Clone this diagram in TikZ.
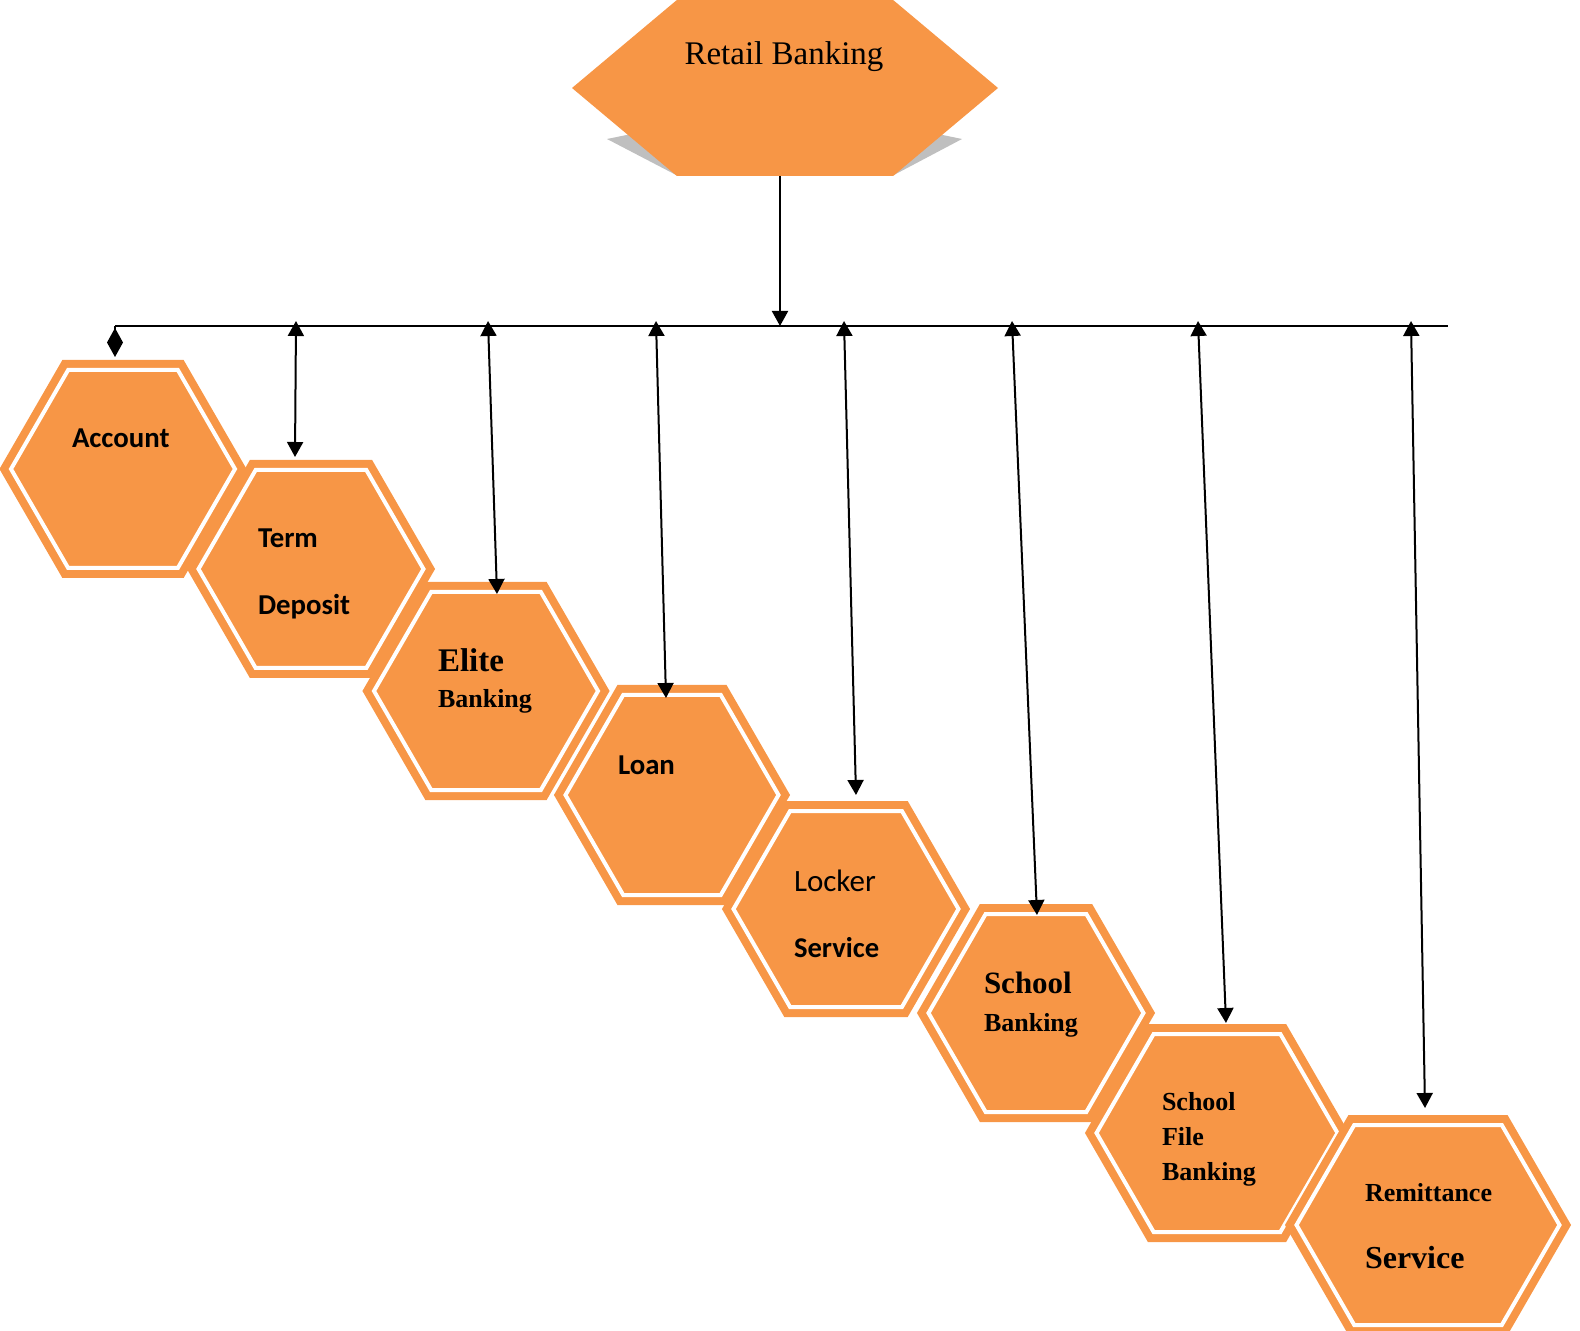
\documentclass[tikz,border=0pt]{standalone}
\usepackage{fontspec}
\setmainfont{Liberation Serif}
\newfontfamily\calibri{Carlito}
\usetikzlibrary{shapes.symbols,arrows.meta,calc}
\definecolor{hexorange}{RGB}{247,150,70}
\definecolor{shadowgray}{RGB}{191,191,191}
\tikzstyle{hexa} = [signal, signal to=east and west, signal pointer angle=120, minimum width=112pt, minimum height=99pt, inner sep=0pt, outer sep=0pt, fill=hexorange, draw=hexorange, line width=4pt, double=white, double distance=2pt]
\tikzstyle{topbox} = [signal, signal to=east and west, signal pointer angle=80, minimum width=213pt, minimum height=88pt, inner sep=0pt, outer sep=0pt, fill=hexorange]
\tikzstyle{txt} = [inner sep=0pt, anchor=base west]
\tikzstyle{calb} = [txt, font=\calibri\bfseries\fontsize{14.4}{17}\selectfont]
\tikzstyle{serb} = [txt, font=\bfseries\fontsize{13}{16}\selectfont]

\begin{document}
\begin{tikzpicture}[x=0.5pt, y=-0.5pt, >={Triangle[length=7.5pt,width=8pt]}, line width=1pt]
		\useasboundingbox (0,0) rectangle (1580,1331);
		% top box with its shadow
		\fill[shadowgray] (607,139) -- (700,120) -- (870,120) -- (962,139) -- (892,176) -- (678,176) -- cycle;
		\node (retail) [topbox] at (785,88) {};
		\node (retail-t) [txt, anchor=base, font=\fontsize{16.5}{20}\selectfont] at (784,65) {Retail Banking};

		% services
		\node (acc) [hexa] at (123,469) {};
		\node (term) [hexa, minimum width=112.5pt] at (311,569) {};
		\node (elite) [hexa] at (486,691) {};
		\node (loan) [hexa, minimum width=106.5pt, minimum height=100pt] at (672,795) {};
		\node (locker) [hexa, minimum width=112.5pt, minimum height=98pt] at (846,909) {};
		\node (school) [hexa, minimum width=107.5pt] at (1036,1013) {};
		\node (sfile) [hexa, minimum width=120.5pt] at (1217,1133) {};
		\node (remit) [hexa, minimum width=131.5pt, minimum height=100pt] at (1428,1225) {};

		\node (acc-t) [calb] at (71,448) {Account};
		\node (term-t) [calb] at (257,548) {Term};
		\node (term-b) [calb] at (257,615) {Deposit};
		\node (elite-t) [serb, font=\bfseries\fontsize{16.5}{20}\selectfont] at (437,672) {Elite};
		\node (elite-b) [serb] at (437,708) {Banking};
		\node (loan-t) [calb] at (617,775) {Loan};
		\node (locker-t) [txt, font=\calibri\fontsize{15.5}{19}\selectfont] at (793,891) {Locker};
		\node (locker-b) [calb, font=\calibri\bfseries\fontsize{14.3}{17}\selectfont] at (793,957) {Service};
		\node (school-t) [serb, font=\bfseries\fontsize{15.5}{19}\selectfont] at (983,993) {School};
		\node (school-b) [serb] at (983,1031) {Banking};
		\node (sfile-t) [serb] at (1161,1110) {School};
		\node (sfile-m) [serb] at (1161,1145) {File};
		\node (sfile-b) [serb] at (1161,1180) {Banking};
		\node (remit-t) [serb] at (1364,1201) {Remittance};
		\node (remit-b) [serb, font=\bfseries\fontsize{16}{19}\selectfont] at (1364,1268) {Service};

		% bus line
		\coordinate (busl) at (115,326);
		\coordinate (busr) at (1448,326);
		\coordinate (busc) at (780,326);
		\coordinate (t2) at (296,321);
		\coordinate (t3) at (488,321);
		\coordinate (t4) at (656,321);
		\coordinate (t5) at (844,321);
		\coordinate (t6) at (1012,321);
		\coordinate (t7) at (1198,321);
		\coordinate (t8) at (1411,321);

		\draw (busl) -- (busr);
		\draw [->] (retail.south -| busc) -- (busc);
		\draw [-{Diamond[length=14.5pt,width=8pt]}] (busl) -- ($(acc.north)+(-8,-13)$);
		\draw [<->] (t2) -- ($(term.north)+(-16,-13)$);
		\draw [<->] (t3) -- ($(elite.north)+(11,2)$);
		\draw [<->] (t4) -- ($(loan.north)+(-6,3)$);
		\draw [<->] (t5) -- ($(locker.north)+(10,-16)$);
		\draw [<->] (t6) -- ($(school.north)+(1,1)$);
		\draw [<->] (t7) -- ($(sfile.north)+(9,-11)$);
		\draw [<->] (t8) -- ($(remit.north)+(-3,-17)$);
	\end{tikzpicture}
\end{document}
